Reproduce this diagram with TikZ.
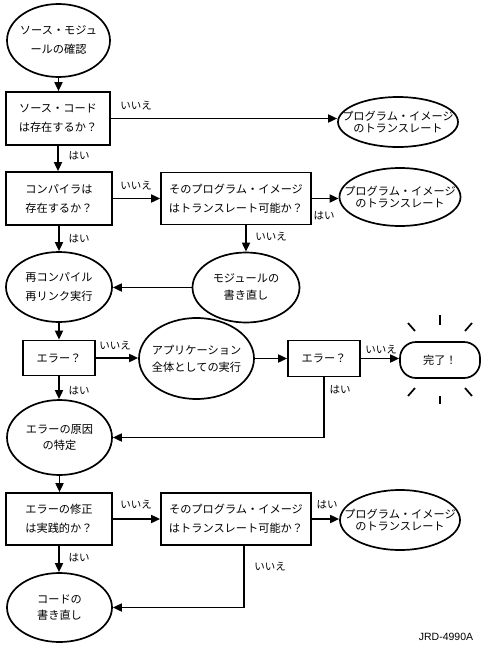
\documentclass[tikz,border=0pt]{standalone}
\usepackage{fontspec}
\newfontfamily\jp{Noto Sans CJK JP}
\newfontfamily\lat{Liberation Sans}
\usetikzlibrary{shapes.geometric,arrows.meta,calc}
\begin{document}
\begin{tikzpicture}[x=1pt,y=-1pt,
  lw/.style={line width=1.7pt},
  box/.style={draw,lw,rectangle,inner sep=0pt,align=center,font=\jp\fontsize{11.2}{19}\selectfont},
  ell/.style={draw,lw,ellipse,inner sep=0pt},
  txt/.style={align=center,inner sep=0pt,font=\jp\fontsize{11.2}{#1}\selectfont},
  lbl/.style={inner sep=0pt,font=\jp\fontsize{10.5}{12}\selectfont},
  arr/.style={lw,-{Triangle[length=9pt,width=8pt]}},
  ray/.style={lw}]
\path[fill=white,use as bounding box] (0,0) rectangle (483,648);
% nodes
\node[ell,minimum width=103pt,minimum height=73pt,label={[txt=19]center:{ソース・モジュ\\ールの確認}}] (e1) at (58.5,40.5) {};
\node[box,minimum width=104pt,minimum height=53pt] (b1) at (58,118.5) {ソース・コード\\は存在するか？};
\node[ell,minimum width=120pt,minimum height=50pt,label={[txt=12.5]center:{プログラム・イメージ\\のトランスレート}}] (e2) at (398,122) {};
\node[box,minimum width=106pt,minimum height=53pt] (b2) at (59,198.5) {コンパイラは\\存在するか？};
\node[box,minimum width=150pt,minimum height=52pt] (b3) at (236,198.5) {そのプログラム・イメージ\\はトランスレート可能か？};
\node[ell,minimum width=121pt,minimum height=58pt,label={[txt=12.5]center:{プログラム・イメージ\\のトランスレート}}] (e3) at (400,197) {};
\node[ell,minimum width=107pt,minimum height=70pt,label={[txt=17]center:{モジュールの\\書き直し}}] (e4) at (246,287.5) {};
\node[ell,minimum width=106pt,minimum height=70pt,label={[txt=19]center:{再コンパイル\\再リンク実行}}] (e5) at (59,287) {};
\node[box,minimum width=72pt,minimum height=35pt] (b4) at (59,358) {エラー？};
\node[ell,minimum width=115pt,minimum height=81pt,label={[txt=17]center:{アプリケーション\\全体としての実行}}] (e6) at (196.5,358.5) {};
\node[box,minimum width=72pt,minimum height=36pt] (b5) at (324,358.5) {エラー？};
\node[draw,lw,rounded corners=16pt,minimum width=80pt,minimum height=36pt,inner sep=0pt,font=\jp\fontsize{11.2}{13}\selectfont] (done) at (440,360) {完了！};
\node[ell,minimum width=105pt,minimum height=75pt,label={[txt=15.5]center:{エラーの原因\\の特定}}] (e7) at (59.5,437.5) {};
\node[box,minimum width=106pt,minimum height=52pt] (b6) at (59,519) {エラーの修正\\は実践的か？};
\node[box,minimum width=150pt,minimum height=52pt] (b7) at (236,519) {そのプログラム・イメージ\\はトランスレート可能か？};
\node[ell,minimum width=120pt,minimum height=60pt,label={[txt=12.5]center:{プログラム・イメージ\\のトランスレート}}] (e8) at (400,520) {};
\node[ell,minimum width=105pt,minimum height=69pt,label={[txt=15.5]center:{コードの\\書き直し}}] (e9) at (59.5,607.5) {};
\node[inner sep=0pt,font=\lat\fontsize{10.5}{12}\selectfont] (id) at (446,637) {JRD-4990A};
% connectors
\draw[arr] (e1.south) -- (e1.south |- b1.north);
\draw[arr] (b1.east) -- (b1.east -| e2.west);
\draw[arr] (b1.south) -- (b1.south |- b2.north);
\draw[arr] (b2.east) -- (b3.west);
\draw[arr] (b3.east) -- (b3.east -| e3.west);
\draw[arr] (b2.south) -- (b2.south |- e5.north);
\draw[arr] (e4.north |- b3.south) -- (e4.north);
\draw[arr] (e4.west) -- (e4.west -| e5.east);
\draw[arr] (e5.south) -- (e5.south |- b4.north);
\draw[arr] (b4.east) -- (b4.east -| e6.west);
\draw[arr] (e6.east) -- (e6.east -| b5.west);
\draw[arr] (b5.east) -- (b5.east -| done.west);
\draw[arr] (b5.south) |- (e7.east);
\draw[arr] (b4.south) -- (b4.south |- e7.north);
\draw[arr] (e7.south) -- (e7.south |- b6.north);
\draw[arr] (b6.east) -- (b7.west);
\draw[arr] (b7.east) -- (b7.east -| e8.west);
\draw[arr] ([xshift=8pt]b7.south) |- (e9.east);
\draw[arr] (b6.south) -- (b6.south |- e9.north);
% connector labels
\node[lbl] (l1) at (136,106) {いいえ};
\node[lbl] (l2) at (79,156) {はい};
\node[lbl] (l3) at (136,186) {いいえ};
\node[lbl] (l4) at (79,239) {はい};
\node[lbl] (l5) at (324,216) {はい};
\node[lbl] (l6) at (271,237) {いいえ};
\node[lbl] (l7) at (115,346) {いいえ};
\node[lbl] (l8) at (79,391) {はい};
\node[lbl] (l9) at (381,350) {いいえ};
\node[lbl] (l10) at (340,390) {はい};
\node[lbl] (l11) at (136,505) {いいえ};
\node[lbl] (l12) at (79,558) {はい};
\node[lbl] (l13) at (327,505) {はい};
\node[lbl] (l14) at (270,567) {いいえ};
% rays around "done"
\draw[ray] (440,315) -- (440,325);
\draw[ray] (440,396) -- (440,404);
\draw[ray] (408,323) -- (415,331);
\draw[ray] (472,323) -- (465,331);
\draw[ray] (408,396) -- (415,388);
\draw[ray] (472,396) -- (465,388);
\end{tikzpicture}
\end{document}
